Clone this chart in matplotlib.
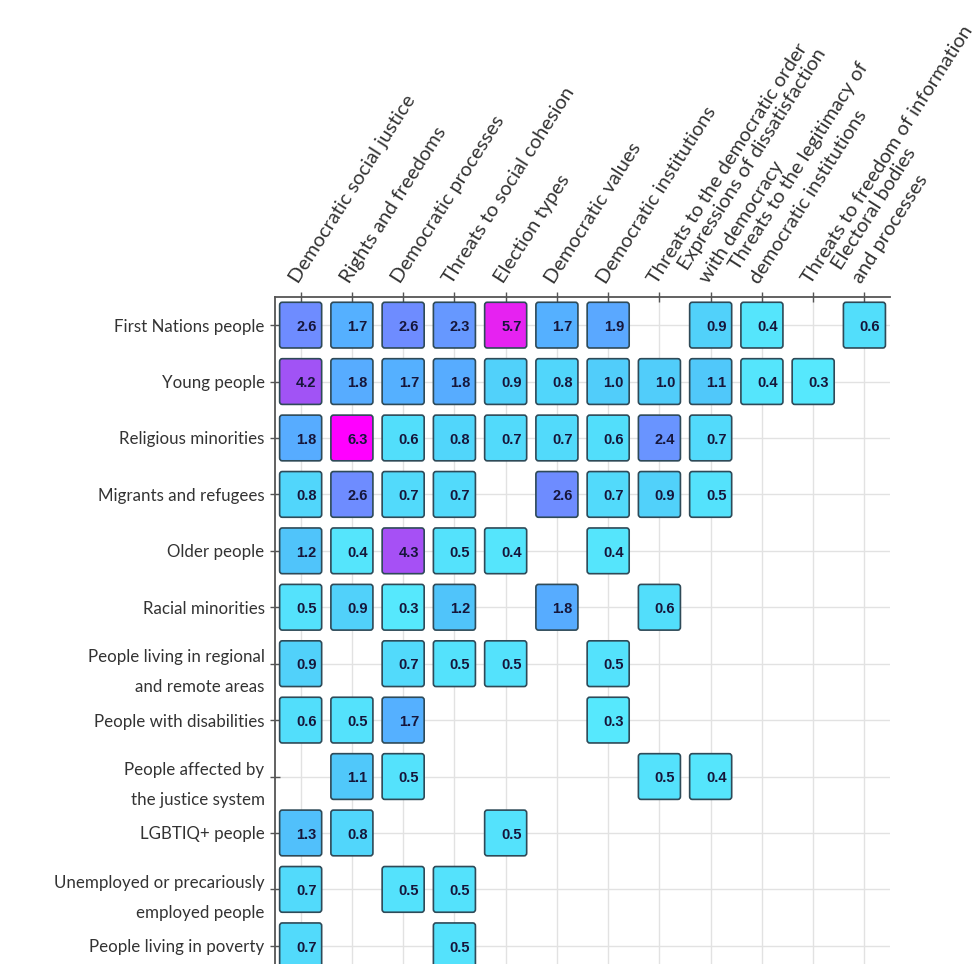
import matplotlib.pyplot as plt
import numpy as np
from matplotlib.patches import FancyBboxPatch
from matplotlib.colors import Normalize, LinearSegmentedColormap

# Rows (groups) and columns (themes) of the heatmap
groups = [
    'First Nations people',
    'Young people',
    'Religious minorities',
    'Migrants and refugees',
    'Older people',
    'Racial minorities',
    'People living in regional\nand remote areas',
    'People with disabilities',
    'People affected by\nthe justice system',
    'LGBTIQ+ people',
    'Unemployed or precariously\nemployed people',
    'People living in poverty',
]

themes = [
    'Democratic social justice',
    'Rights and freedoms',
    'Democratic processes',
    'Threats to social cohesion',
    'Election types',
    'Democratic values',
    'Democratic institutions',
    'Threats to the democratic order',
    'Expressions of dissatisfaction\nwith democracy',
    'Threats to the legitimacy of\ndemocratic institutions',
    'Threats to freedom of information',
    'Electoral bodies\nand processes',
]

nan = np.nan
values = np.array([
    [2.6, 1.7, 2.6, 2.3, 5.7, 1.7, 1.9, nan, 0.9, 0.4, nan, 0.6],
    [4.2, 1.8, 1.7, 1.8, 0.9, 0.8, 1.0, 1.0, 1.1, 0.4, 0.3, nan],
    [1.8, 6.3, 0.6, 0.8, 0.7, 0.7, 0.6, 2.4, 0.7, nan, nan, nan],
    [0.8, 2.6, 0.7, 0.7, nan, 2.6, 0.7, 0.9, 0.5, nan, nan, nan],
    [1.2, 0.4, 4.3, 0.5, 0.4, nan, 0.4, nan, nan, nan, nan, nan],
    [0.5, 0.9, 0.3, 1.2, nan, 1.8, nan, 0.6, nan, nan, nan, nan],
    [0.9, nan, 0.7, 0.5, 0.5, nan, 0.5, nan, nan, nan, nan, nan],
    [0.6, 0.5, 1.7, nan, nan, nan, 0.3, nan, nan, nan, nan, nan],
    [nan, 1.1, 0.5, nan, nan, nan, nan, 0.5, 0.4, nan, nan, nan],
    [1.3, 0.8, nan, nan, 0.5, nan, nan, nan, nan, nan, nan, nan],
    [0.7, nan, 0.5, 0.5, nan, nan, nan, nan, nan, nan, nan, nan],
    [0.7, nan, nan, 0.5, nan, nan, nan, nan, nan, nan, nan, nan],
])

fig = plt.figure(figsize=(9.77, 9.64), dpi=100)
ax = fig.add_axes([0.2815, -0.0104, 0.6295, 0.7024])

# cyan -> blue -> purple -> magenta, a softened version of "cool"
cmap = LinearSegmentedColormap.from_list('soft_cool', [
    (0.00, '#5AF2FF'),
    (0.10, '#52DDFB'),
    (0.18, '#50C6FA'),
    (0.28, '#56AEFF'),
    (0.41, '#6E8CFF'),
    (0.67, '#A252F5'),
    (0.90, '#E424F0'),
    (1.00, '#FF00FF'),
])
norm = Normalize(vmin=0, vmax=np.nanmax(values))

# Draw a rounded tile with its value for every non-empty cell
w, h = 0.82, 0.81
for i in range(len(groups)):
    for j in range(len(themes)):
        v = values[i, j]
        if np.isnan(v):
            continue
        tile = FancyBboxPatch((j - w / 2, i - h / 2), w, h,
                              boxstyle='round,pad=0,rounding_size=0.05',
                              fc=cmap(norm(v)), ec='#2e4a58', lw=1.2, zorder=3)
        ax.add_patch(tile)
        ax.text(j + 0.11, i + 0.03, f'{v:.1f}', ha='center', va='center',
                fontsize=10.5, fontweight='bold', color='#16163a',
                family='Liberation Sans', zorder=4)

ax.set_xlim(-0.5, 11.5)
ax.set_ylim(11.5, -0.5)

ax.xaxis.tick_top()
ax.set_xticks(range(len(themes)))
ax.set_xticklabels(themes, rotation=57.5, ha='left', va='bottom',
                   rotation_mode='anchor', family='Lato', fontsize=14.5,
                   color='#333333', linespacing=1.57)
ax.set_yticks(range(len(groups)))
ax.set_yticklabels(groups, family='Lato', fontsize=12.2, color='#333333',
                   ha='right', linespacing=2.1)

ax.tick_params(direction='inout', length=7, width=1, color='#555555', pad=4)
ax.grid(color='#e2e2e2', lw=1)
ax.set_axisbelow(True)

for side in ['right', 'bottom']:
    ax.spines[side].set_visible(False)
for side in ['left', 'top']:
    ax.spines[side].set_color('#555555')
    ax.spines[side].set_linewidth(1.3)

plt.savefig('out.png', dpi=100)
